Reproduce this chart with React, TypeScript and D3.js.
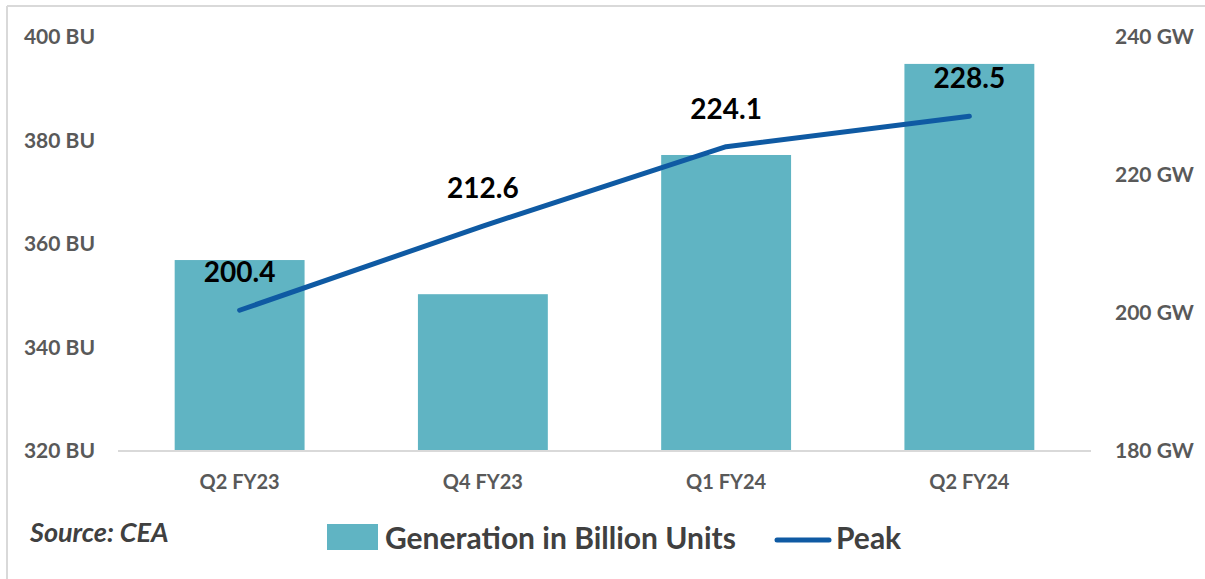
import React from "react";
import * as d3 from "d3";

const categories = ["Q2 FY23", "Q4 FY23", "Q1 FY24", "Q2 FY24"];
const generation = [356.9, 350.3, 377.2, 394.8];
const peak = [200.4, 212.6, 224.1, 228.5];
const leftTicks = [320, 340, 360, 380, 400];
const rightTicks = [180, 200, 220, 240];

const W = 1205;
const H = 579;
const FONT = "Lato, 'Open Sans', sans-serif";

export default function App() {
  const x = d3.scaleBand<string>().domain(categories).range([118, 1091]).paddingInner(0.466).paddingOuter(0.233);
  const yL = d3.scaleLinear().domain([320, 400]).range([451, 37]);
  const yR = d3.scaleLinear().domain([180, 240]).range([451, 37]);
  const line = d3
    .line<number>()
    .x((_, i) => (x(categories[i]) as number) + x.bandwidth() / 2)
    .y((d) => yR(d));

  return (
    <svg width={W} height={H} style={{ position: "absolute", left: 0, top: 0, background: "#fff" }}>
      <rect x={0} y={0} width={W} height={H} fill="#fff" />
      <line x1={7} x2={W} y1={6} y2={6} stroke="#d9d9d9" strokeWidth={2} />
      <line x1={7} x2={7} y1={6} y2={H} stroke="#d9d9d9" strokeWidth={2} />
      {generation.map((v, i) => (
        <rect
          key={categories[i]}
          x={x(categories[i])}
          y={yL(v)}
          width={x.bandwidth()}
          height={yL(320) - yL(v)}
          fill="#60b4c3"
        />
      ))}
      <line x1={118} x2={1091} y1={451} y2={451} stroke="#d9d9d9" strokeWidth={2} />
      {leftTicks.map((t) => (
        <text key={t} x={95} y={yL(t)} dy="0.35em" textAnchor="end" fontFamily={FONT} fontWeight={700} fontSize={21} fill="#595959">
          {t} BU
        </text>
      ))}
      {rightTicks.map((t) => (
        <text key={t} x={1115} y={yR(t)} dy="0.35em" textAnchor="start" fontFamily={FONT} fontWeight={700} fontSize={21} fill="#595959">
          {t} GW
        </text>
      ))}
      {categories.map((c) => (
        <text key={c} x={(x(c) as number) + x.bandwidth() / 2} y={482} dy="0.35em" textAnchor="middle" fontFamily={FONT} fontWeight={700} fontSize={20} fill="#595959">
          {c}
        </text>
      ))}
      <path d={line(peak) as string} fill="none" stroke="#0f5aa3" strokeWidth={5} strokeLinecap="round" strokeLinejoin="round" />
      {peak.map((v, i) => (
        <text key={i} x={(x(categories[i]) as number) + x.bandwidth() / 2} y={yR(v) - 28} textAnchor="middle" fontFamily={FONT} fontWeight={700} fontSize={28} fill="#000">
          {v.toFixed(1)}
        </text>
      ))}
      <text x={30} y={542} fontFamily={FONT} fontWeight={700} fontStyle="italic" fontSize={27} fill="#404040">
        Source: CEA
      </text>
      <rect x={327} y={524} width={51} height={26} fill="#60b4c3" />
      <text x={385} y={549} fontFamily={FONT} fontWeight={700} fontSize={30} fill="#404040">
        Generation in Billion Units
      </text>
      <line x1={777} x2={829} y1={540} y2={540} stroke="#0f5aa3" strokeWidth={5} strokeLinecap="round" />
      <text x={836} y={549} fontFamily={FONT} fontWeight={700} fontSize={30} fill="#404040">
        Peak
      </text>
    </svg>
  );
}
